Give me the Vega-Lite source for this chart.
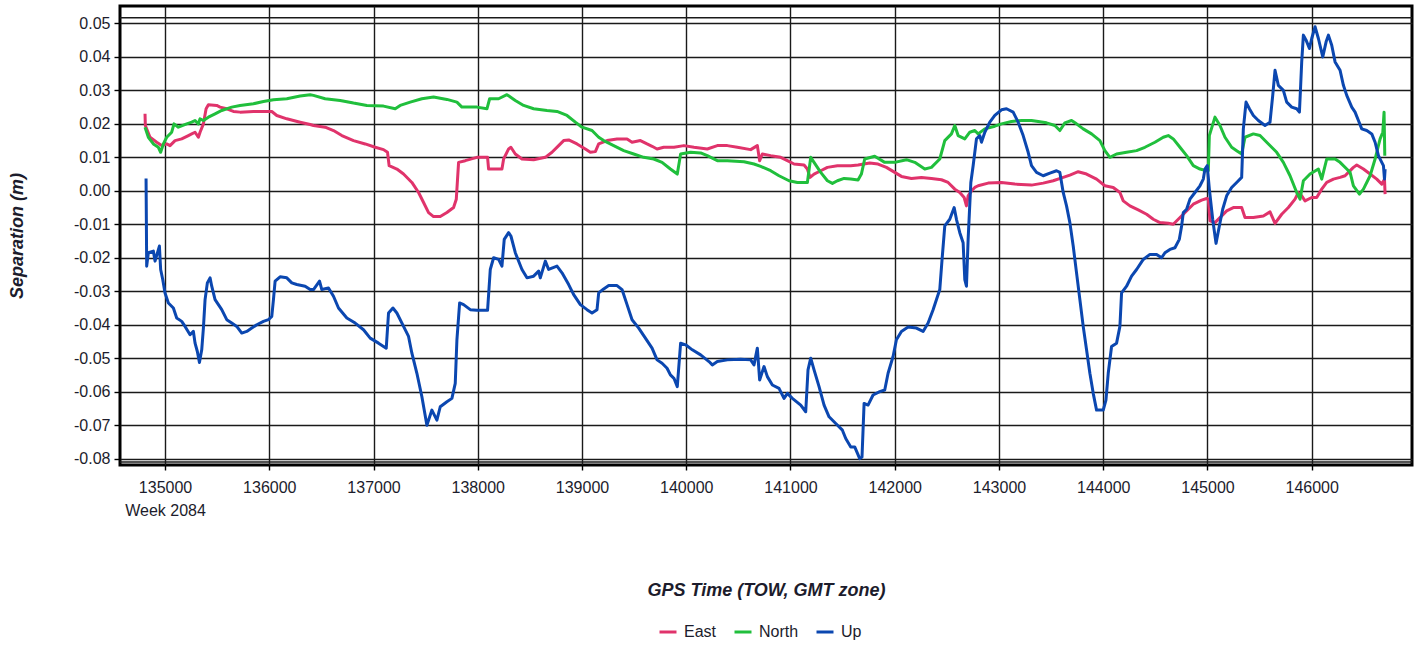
{
"$schema": "https://vega.github.io/schema/vega-lite/v6.json",
"width": 1292, "height": 459,
"autosize": {"type": "none"},
"padding": {"left": 120, "top": 6, "right": 11, "bottom": 181},
"background": "white",
"config": {
  "view": {"stroke": "#000000", "strokeWidth": 3},
  "font": "Liberation Sans",
  "axis": {"domain": false, "grid": true, "gridColor": "#1a1a1a", "gridWidth": 1.4, "gridOpacity": 1, "tickColor": "#000000", "tickWidth": 1.4, "labelFont": "Liberation Sans", "labelFontSize": 16, "labelColor": "#1c1c2c", "labelOverlap": false, "labelFlush": false, "titleFont": "Liberation Sans", "titleFontSize": 18, "titleFontWeight": "bold", "titleFontStyle": "italic", "titleColor": "#1c1c2c"},
  "legend": {"orient": "none", "legendX": 538, "legendY": 616, "direction": "horizontal", "gridAlign": "none", "symbolType": "stroke", "symbolSize": 289, "symbolStrokeWidth": 3, "labelFontSize": 16, "labelFont": "Liberation Sans", "labelColor": "#1c1c2c", "columnPadding": 11, "labelOffset": 6}
},
"datasets": {
  "frame": [{"v": 0.0517}, {"v": -0.081}],
  "series": [
{"t":134808,"s":"East","v":0.0230},{"t":134811,"s":"East","v":0.0195},{"t":134856,"s":"East","v":0.0160},{"t":134920,"s":"East","v":0.0145},{"t":134968,"s":"East","v":0.0135},{"t":135016,"s":"East","v":0.0140},{"t":135048,"s":"East","v":0.0135},{"t":135096,"s":"East","v":0.0150},{"t":135160,"s":"East","v":0.0155},{"t":135224,"s":"East","v":0.0165},{"t":135256,"s":"East","v":0.0170},{"t":135288,"s":"East","v":0.0175},{"t":135320,"s":"East","v":0.0160},{"t":135336,"s":"East","v":0.0175},{"t":135368,"s":"East","v":0.0200},{"t":135394,"s":"East","v":0.0245},{"t":135416,"s":"East","v":0.0257},{"t":135496,"s":"East","v":0.0255},{"t":135528,"s":"East","v":0.0250},{"t":135592,"s":"East","v":0.0245},{"t":135656,"s":"East","v":0.0237},{"t":135720,"s":"East","v":0.0235},{"t":135848,"s":"East","v":0.0237},{"t":136024,"s":"East","v":0.0237},{"t":136072,"s":"East","v":0.0225},{"t":136168,"s":"East","v":0.0215},{"t":136296,"s":"East","v":0.0205},{"t":136392,"s":"East","v":0.0198},{"t":136424,"s":"East","v":0.0195},{"t":136536,"s":"East","v":0.0190},{"t":136616,"s":"East","v":0.0180},{"t":136696,"s":"East","v":0.0165},{"t":136808,"s":"East","v":0.0150},{"t":136920,"s":"East","v":0.0140},{"t":137016,"s":"East","v":0.0130},{"t":137096,"s":"East","v":0.0123},{"t":137134,"s":"East","v":0.0115},{"t":137150,"s":"East","v":0.0075},{"t":137224,"s":"East","v":0.0065},{"t":137288,"s":"East","v":0.0050},{"t":137368,"s":"East","v":0.0025},{"t":137432,"s":"East","v":-0.0005},{"t":137480,"s":"East","v":-0.0035},{"t":137528,"s":"East","v":-0.0065},{"t":137576,"s":"East","v":-0.0077},{"t":137640,"s":"East","v":-0.0077},{"t":137704,"s":"East","v":-0.0065},{"t":137768,"s":"East","v":-0.0050},{"t":137794,"s":"East","v":-0.0025},{"t":137816,"s":"East","v":0.0085},{"t":137880,"s":"East","v":0.0090},{"t":137992,"s":"East","v":0.0100},{"t":138094,"s":"East","v":0.0100},{"t":138104,"s":"East","v":0.0065},{"t":138232,"s":"East","v":0.0065},{"t":138248,"s":"East","v":0.0095},{"t":138296,"s":"East","v":0.0125},{"t":138318,"s":"East","v":0.0130},{"t":138360,"s":"East","v":0.0110},{"t":138424,"s":"East","v":0.0095},{"t":138536,"s":"East","v":0.0093},{"t":138648,"s":"East","v":0.0100},{"t":138712,"s":"East","v":0.0115},{"t":138776,"s":"East","v":0.0135},{"t":138824,"s":"East","v":0.0150},{"t":138872,"s":"East","v":0.0152},{"t":138952,"s":"East","v":0.0140},{"t":139032,"s":"East","v":0.0125},{"t":139080,"s":"East","v":0.0115},{"t":139128,"s":"East","v":0.0117},{"t":139160,"s":"East","v":0.0140},{"t":139240,"s":"East","v":0.0150},{"t":139336,"s":"East","v":0.0155},{"t":139432,"s":"East","v":0.0155},{"t":139480,"s":"East","v":0.0145},{"t":139560,"s":"East","v":0.0150},{"t":139624,"s":"East","v":0.0140},{"t":139672,"s":"East","v":0.0133},{"t":139720,"s":"East","v":0.0125},{"t":139784,"s":"East","v":0.0130},{"t":139848,"s":"East","v":0.0130},{"t":139882,"s":"East","v":0.0130},{"t":139978,"s":"East","v":0.0135},{"t":140074,"s":"East","v":0.0130},{"t":140202,"s":"East","v":0.0125},{"t":140298,"s":"East","v":0.0135},{"t":140394,"s":"East","v":0.0135},{"t":140490,"s":"East","v":0.0130},{"t":140618,"s":"East","v":0.0123},{"t":140682,"s":"East","v":0.0135},{"t":140704,"s":"East","v":0.0090},{"t":140730,"s":"East","v":0.0110},{"t":140810,"s":"East","v":0.0105},{"t":140906,"s":"East","v":0.0100},{"t":140970,"s":"East","v":0.0090},{"t":141034,"s":"East","v":0.0080},{"t":141130,"s":"East","v":0.0077},{"t":141162,"s":"East","v":0.0065},{"t":141188,"s":"East","v":0.0040},{"t":141226,"s":"East","v":0.0050},{"t":141290,"s":"East","v":0.0060},{"t":141354,"s":"East","v":0.0070},{"t":141450,"s":"East","v":0.0075},{"t":141578,"s":"East","v":0.0075},{"t":141648,"s":"East","v":0.0077},{"t":141760,"s":"East","v":0.0083},{"t":141840,"s":"East","v":0.0080},{"t":141920,"s":"East","v":0.0070},{"t":142000,"s":"East","v":0.0055},{"t":142064,"s":"East","v":0.0043},{"t":142160,"s":"East","v":0.0037},{"t":142256,"s":"East","v":0.0040},{"t":142352,"s":"East","v":0.0037},{"t":142448,"s":"East","v":0.0033},{"t":142512,"s":"East","v":0.0025},{"t":142576,"s":"East","v":0.0005},{"t":142624,"s":"East","v":-0.0005},{"t":142666,"s":"East","v":-0.0020},{"t":142688,"s":"East","v":-0.0045},{"t":142704,"s":"East","v":-0.0015},{"t":142736,"s":"East","v":0.0000},{"t":142768,"s":"East","v":0.0010},{"t":142800,"s":"East","v":0.0015},{"t":142896,"s":"East","v":0.0023},{"t":143024,"s":"East","v":0.0025},{"t":143152,"s":"East","v":0.0020},{"t":143312,"s":"East","v":0.0017},{"t":143424,"s":"East","v":0.0023},{"t":143520,"s":"East","v":0.0030},{"t":143616,"s":"East","v":0.0040},{"t":143680,"s":"East","v":0.0047},{"t":143760,"s":"East","v":0.0057},{"t":143840,"s":"East","v":0.0050},{"t":143936,"s":"East","v":0.0035},{"t":144016,"s":"East","v":0.0015},{"t":144096,"s":"East","v":0.0010},{"t":144160,"s":"East","v":-0.0005},{"t":144192,"s":"East","v":-0.0030},{"t":144256,"s":"East","v":-0.0045},{"t":144336,"s":"East","v":-0.0057},{"t":144416,"s":"East","v":-0.0070},{"t":144480,"s":"East","v":-0.0085},{"t":144544,"s":"East","v":-0.0095},{"t":144624,"s":"East","v":-0.0097},{"t":144672,"s":"East","v":-0.0100},{"t":144720,"s":"East","v":-0.0085},{"t":144768,"s":"East","v":-0.0070},{"t":144816,"s":"East","v":-0.0055},{"t":144864,"s":"East","v":-0.0040},{"t":144944,"s":"East","v":-0.0028},{"t":144992,"s":"East","v":-0.0023},{"t":145008,"s":"East","v":-0.0025},{"t":145024,"s":"East","v":-0.0090},{"t":145072,"s":"East","v":-0.0095},{"t":145120,"s":"East","v":-0.0080},{"t":145184,"s":"East","v":-0.0060},{"t":145248,"s":"East","v":-0.0050},{"t":145328,"s":"East","v":-0.0050},{"t":145360,"s":"East","v":-0.0080},{"t":145440,"s":"East","v":-0.0080},{"t":145536,"s":"East","v":-0.0075},{"t":145600,"s":"East","v":-0.0063},{"t":145648,"s":"East","v":-0.0097},{"t":145712,"s":"East","v":-0.0070},{"t":145776,"s":"East","v":-0.0050},{"t":145840,"s":"East","v":-0.0025},{"t":145872,"s":"East","v":-0.0005},{"t":145904,"s":"East","v":-0.0015},{"t":145936,"s":"East","v":-0.0030},{"t":146000,"s":"East","v":-0.0020},{"t":146048,"s":"East","v":-0.0020},{"t":146096,"s":"East","v":0.0005},{"t":146144,"s":"East","v":0.0025},{"t":146208,"s":"East","v":0.0035},{"t":146272,"s":"East","v":0.0040},{"t":146320,"s":"East","v":0.0045},{"t":146352,"s":"East","v":0.0055},{"t":146400,"s":"East","v":0.0070},{"t":146432,"s":"East","v":0.0077},{"t":146496,"s":"East","v":0.0065},{"t":146560,"s":"East","v":0.0050},{"t":146624,"s":"East","v":0.0035},{"t":146672,"s":"East","v":0.0020},{"t":146698,"s":"East","v":0.0035},{"t":146704,"s":"East","v":-0.0010},
{"t":134808,"s":"North","v":0.0190},{"t":134840,"s":"North","v":0.0160},{"t":134888,"s":"North","v":0.0140},{"t":134936,"s":"North","v":0.0130},{"t":134958,"s":"North","v":0.0115},{"t":134984,"s":"North","v":0.0140},{"t":135016,"s":"North","v":0.0160},{"t":135064,"s":"North","v":0.0175},{"t":135086,"s":"North","v":0.0200},{"t":135128,"s":"North","v":0.0190},{"t":135208,"s":"North","v":0.0200},{"t":135256,"s":"North","v":0.0205},{"t":135288,"s":"North","v":0.0210},{"t":135320,"s":"North","v":0.0200},{"t":135336,"s":"North","v":0.0215},{"t":135368,"s":"North","v":0.0210},{"t":135416,"s":"North","v":0.0220},{"t":135480,"s":"North","v":0.0230},{"t":135544,"s":"North","v":0.0240},{"t":135640,"s":"North","v":0.0250},{"t":135720,"s":"North","v":0.0255},{"t":135848,"s":"North","v":0.0260},{"t":135944,"s":"North","v":0.0267},{"t":136040,"s":"North","v":0.0272},{"t":136168,"s":"North","v":0.0275},{"t":136296,"s":"North","v":0.0283},{"t":136392,"s":"North","v":0.0287},{"t":136424,"s":"North","v":0.0285},{"t":136536,"s":"North","v":0.0275},{"t":136680,"s":"North","v":0.0270},{"t":136808,"s":"North","v":0.0262},{"t":136936,"s":"North","v":0.0255},{"t":137096,"s":"North","v":0.0253},{"t":137208,"s":"North","v":0.0245},{"t":137256,"s":"North","v":0.0255},{"t":137352,"s":"North","v":0.0265},{"t":137464,"s":"North","v":0.0275},{"t":137576,"s":"North","v":0.0280},{"t":137704,"s":"North","v":0.0273},{"t":137800,"s":"North","v":0.0265},{"t":137848,"s":"North","v":0.0250},{"t":137992,"s":"North","v":0.0250},{"t":138088,"s":"North","v":0.0245},{"t":138114,"s":"North","v":0.0275},{"t":138200,"s":"North","v":0.0275},{"t":138280,"s":"North","v":0.0287},{"t":138360,"s":"North","v":0.0270},{"t":138440,"s":"North","v":0.0255},{"t":138536,"s":"North","v":0.0245},{"t":138664,"s":"North","v":0.0240},{"t":138760,"s":"North","v":0.0237},{"t":138856,"s":"North","v":0.0225},{"t":138936,"s":"North","v":0.0205},{"t":139000,"s":"North","v":0.0190},{"t":139096,"s":"North","v":0.0180},{"t":139160,"s":"North","v":0.0160},{"t":139208,"s":"North","v":0.0150},{"t":139304,"s":"North","v":0.0135},{"t":139400,"s":"North","v":0.0120},{"t":139496,"s":"North","v":0.0110},{"t":139592,"s":"North","v":0.0100},{"t":139688,"s":"North","v":0.0095},{"t":139768,"s":"North","v":0.0085},{"t":139848,"s":"North","v":0.0065},{"t":139914,"s":"North","v":0.0050},{"t":139946,"s":"North","v":0.0110},{"t":140042,"s":"North","v":0.0115},{"t":140138,"s":"North","v":0.0113},{"t":140202,"s":"North","v":0.0105},{"t":140298,"s":"North","v":0.0090},{"t":140394,"s":"North","v":0.0090},{"t":140554,"s":"North","v":0.0087},{"t":140650,"s":"North","v":0.0080},{"t":140714,"s":"North","v":0.0073},{"t":140810,"s":"North","v":0.0060},{"t":140890,"s":"North","v":0.0045},{"t":140986,"s":"North","v":0.0030},{"t":141066,"s":"North","v":0.0025},{"t":141162,"s":"North","v":0.0025},{"t":141194,"s":"North","v":0.0100},{"t":141226,"s":"North","v":0.0085},{"t":141290,"s":"North","v":0.0055},{"t":141354,"s":"North","v":0.0030},{"t":141402,"s":"North","v":0.0022},{"t":141450,"s":"North","v":0.0030},{"t":141514,"s":"North","v":0.0037},{"t":141578,"s":"North","v":0.0035},{"t":141648,"s":"North","v":0.0032},{"t":141680,"s":"North","v":0.0050},{"t":141712,"s":"North","v":0.0095},{"t":141808,"s":"North","v":0.0103},{"t":141904,"s":"North","v":0.0085},{"t":142000,"s":"North","v":0.0085},{"t":142112,"s":"North","v":0.0093},{"t":142192,"s":"North","v":0.0085},{"t":142288,"s":"North","v":0.0065},{"t":142352,"s":"North","v":0.0070},{"t":142432,"s":"North","v":0.0095},{"t":142480,"s":"North","v":0.0150},{"t":142544,"s":"North","v":0.0170},{"t":142576,"s":"North","v":0.0195},{"t":142608,"s":"North","v":0.0165},{"t":142672,"s":"North","v":0.0155},{"t":142720,"s":"North","v":0.0175},{"t":142768,"s":"North","v":0.0180},{"t":142800,"s":"North","v":0.0170},{"t":142864,"s":"North","v":0.0185},{"t":142960,"s":"North","v":0.0193},{"t":143024,"s":"North","v":0.0200},{"t":143120,"s":"North","v":0.0207},{"t":143216,"s":"North","v":0.0210},{"t":143312,"s":"North","v":0.0210},{"t":143456,"s":"North","v":0.0203},{"t":143536,"s":"North","v":0.0195},{"t":143584,"s":"North","v":0.0180},{"t":143632,"s":"North","v":0.0203},{"t":143696,"s":"North","v":0.0210},{"t":143744,"s":"North","v":0.0200},{"t":143808,"s":"North","v":0.0185},{"t":143888,"s":"North","v":0.0170},{"t":143968,"s":"North","v":0.0150},{"t":144016,"s":"North","v":0.0120},{"t":144064,"s":"North","v":0.0100},{"t":144128,"s":"North","v":0.0110},{"t":144224,"s":"North","v":0.0115},{"t":144320,"s":"North","v":0.0120},{"t":144400,"s":"North","v":0.0130},{"t":144496,"s":"North","v":0.0145},{"t":144576,"s":"North","v":0.0160},{"t":144624,"s":"North","v":0.0165},{"t":144672,"s":"North","v":0.0155},{"t":144736,"s":"North","v":0.0130},{"t":144800,"s":"North","v":0.0105},{"t":144864,"s":"North","v":0.0075},{"t":144928,"s":"North","v":0.0065},{"t":144992,"s":"North","v":0.0060},{"t":145008,"s":"North","v":0.0060},{"t":145018,"s":"North","v":0.0165},{"t":145072,"s":"North","v":0.0220},{"t":145120,"s":"North","v":0.0195},{"t":145168,"s":"North","v":0.0160},{"t":145232,"s":"North","v":0.0130},{"t":145280,"s":"North","v":0.0120},{"t":145328,"s":"North","v":0.0110},{"t":145360,"s":"North","v":0.0160},{"t":145440,"s":"North","v":0.0170},{"t":145504,"s":"North","v":0.0165},{"t":145568,"s":"North","v":0.0145},{"t":145616,"s":"North","v":0.0130},{"t":145664,"s":"North","v":0.0115},{"t":145728,"s":"North","v":0.0085},{"t":145792,"s":"North","v":0.0045},{"t":145856,"s":"North","v":-0.0005},{"t":145888,"s":"North","v":-0.0025},{"t":145920,"s":"North","v":0.0030},{"t":145984,"s":"North","v":0.0050},{"t":146064,"s":"North","v":0.0065},{"t":146096,"s":"North","v":0.0035},{"t":146144,"s":"North","v":0.0095},{"t":146224,"s":"North","v":0.0095},{"t":146272,"s":"North","v":0.0085},{"t":146336,"s":"North","v":0.0065},{"t":146368,"s":"North","v":0.0055},{"t":146400,"s":"North","v":0.0015},{"t":146458,"s":"North","v":-0.0010},{"t":146496,"s":"North","v":0.0005},{"t":146560,"s":"North","v":0.0045},{"t":146608,"s":"North","v":0.0095},{"t":146656,"s":"North","v":0.0155},{"t":146682,"s":"North","v":0.0175},{"t":146694,"s":"North","v":0.0235},{"t":146701,"s":"North","v":0.0105},
{"t":134818,"s":"Up","v":0.0037},{"t":134821,"s":"Up","v":-0.0095},{"t":134824,"s":"Up","v":-0.0225},{"t":134840,"s":"Up","v":-0.0185},{"t":134888,"s":"Up","v":-0.0180},{"t":134904,"s":"Up","v":-0.0210},{"t":134946,"s":"Up","v":-0.0165},{"t":134958,"s":"Up","v":-0.0235},{"t":134978,"s":"Up","v":-0.0265},{"t":135000,"s":"Up","v":-0.0305},{"t":135032,"s":"Up","v":-0.0335},{"t":135080,"s":"Up","v":-0.0350},{"t":135112,"s":"Up","v":-0.0380},{"t":135160,"s":"Up","v":-0.0390},{"t":135192,"s":"Up","v":-0.0405},{"t":135240,"s":"Up","v":-0.0430},{"t":135272,"s":"Up","v":-0.0420},{"t":135288,"s":"Up","v":-0.0455},{"t":135310,"s":"Up","v":-0.0480},{"t":135330,"s":"Up","v":-0.0513},{"t":135352,"s":"Up","v":-0.0475},{"t":135368,"s":"Up","v":-0.0410},{"t":135384,"s":"Up","v":-0.0325},{"t":135406,"s":"Up","v":-0.0275},{"t":135432,"s":"Up","v":-0.0260},{"t":135448,"s":"Up","v":-0.0285},{"t":135480,"s":"Up","v":-0.0325},{"t":135544,"s":"Up","v":-0.0355},{"t":135592,"s":"Up","v":-0.0385},{"t":135640,"s":"Up","v":-0.0395},{"t":135688,"s":"Up","v":-0.0405},{"t":135736,"s":"Up","v":-0.0425},{"t":135784,"s":"Up","v":-0.0420},{"t":135832,"s":"Up","v":-0.0410},{"t":135880,"s":"Up","v":-0.0400},{"t":135944,"s":"Up","v":-0.0390},{"t":135992,"s":"Up","v":-0.0385},{"t":136024,"s":"Up","v":-0.0375},{"t":136040,"s":"Up","v":-0.0325},{"t":136056,"s":"Up","v":-0.0270},{"t":136104,"s":"Up","v":-0.0257},{"t":136168,"s":"Up","v":-0.0260},{"t":136216,"s":"Up","v":-0.0275},{"t":136264,"s":"Up","v":-0.0280},{"t":136344,"s":"Up","v":-0.0285},{"t":136392,"s":"Up","v":-0.0295},{"t":136424,"s":"Up","v":-0.0295},{"t":136482,"s":"Up","v":-0.0270},{"t":136504,"s":"Up","v":-0.0295},{"t":136568,"s":"Up","v":-0.0290},{"t":136616,"s":"Up","v":-0.0315},{"t":136664,"s":"Up","v":-0.0350},{"t":136744,"s":"Up","v":-0.0380},{"t":136824,"s":"Up","v":-0.0395},{"t":136904,"s":"Up","v":-0.0415},{"t":136968,"s":"Up","v":-0.0440},{"t":137048,"s":"Up","v":-0.0455},{"t":137122,"s":"Up","v":-0.0470},{"t":137144,"s":"Up","v":-0.0365},{"t":137186,"s":"Up","v":-0.0350},{"t":137224,"s":"Up","v":-0.0365},{"t":137288,"s":"Up","v":-0.0405},{"t":137336,"s":"Up","v":-0.0435},{"t":137368,"s":"Up","v":-0.0485},{"t":137416,"s":"Up","v":-0.0545},{"t":137464,"s":"Up","v":-0.0615},{"t":137512,"s":"Up","v":-0.0700},{"t":137560,"s":"Up","v":-0.0655},{"t":137608,"s":"Up","v":-0.0685},{"t":137640,"s":"Up","v":-0.0645},{"t":137704,"s":"Up","v":-0.0630},{"t":137752,"s":"Up","v":-0.0620},{"t":137784,"s":"Up","v":-0.0575},{"t":137800,"s":"Up","v":-0.0445},{"t":137826,"s":"Up","v":-0.0335},{"t":137864,"s":"Up","v":-0.0340},{"t":137928,"s":"Up","v":-0.0355},{"t":137992,"s":"Up","v":-0.0357},{"t":138094,"s":"Up","v":-0.0357},{"t":138120,"s":"Up","v":-0.0235},{"t":138152,"s":"Up","v":-0.0200},{"t":138200,"s":"Up","v":-0.0205},{"t":138232,"s":"Up","v":-0.0225},{"t":138254,"s":"Up","v":-0.0145},{"t":138296,"s":"Up","v":-0.0125},{"t":138318,"s":"Up","v":-0.0135},{"t":138360,"s":"Up","v":-0.0185},{"t":138424,"s":"Up","v":-0.0235},{"t":138472,"s":"Up","v":-0.0260},{"t":138536,"s":"Up","v":-0.0255},{"t":138584,"s":"Up","v":-0.0240},{"t":138600,"s":"Up","v":-0.0260},{"t":138648,"s":"Up","v":-0.0210},{"t":138680,"s":"Up","v":-0.0235},{"t":138760,"s":"Up","v":-0.0225},{"t":138808,"s":"Up","v":-0.0245},{"t":138872,"s":"Up","v":-0.0280},{"t":138920,"s":"Up","v":-0.0310},{"t":138984,"s":"Up","v":-0.0340},{"t":139048,"s":"Up","v":-0.0355},{"t":139096,"s":"Up","v":-0.0365},{"t":139144,"s":"Up","v":-0.0355},{"t":139160,"s":"Up","v":-0.0305},{"t":139208,"s":"Up","v":-0.0293},{"t":139256,"s":"Up","v":-0.0283},{"t":139336,"s":"Up","v":-0.0283},{"t":139384,"s":"Up","v":-0.0295},{"t":139432,"s":"Up","v":-0.0340},{"t":139480,"s":"Up","v":-0.0385},{"t":139544,"s":"Up","v":-0.0410},{"t":139608,"s":"Up","v":-0.0440},{"t":139672,"s":"Up","v":-0.0470},{"t":139720,"s":"Up","v":-0.0505},{"t":139768,"s":"Up","v":-0.0515},{"t":139816,"s":"Up","v":-0.0530},{"t":139848,"s":"Up","v":-0.0550},{"t":139882,"s":"Up","v":-0.0560},{"t":139914,"s":"Up","v":-0.0585},{"t":139946,"s":"Up","v":-0.0455},{"t":139994,"s":"Up","v":-0.0460},{"t":140058,"s":"Up","v":-0.0475},{"t":140138,"s":"Up","v":-0.0490},{"t":140218,"s":"Up","v":-0.0510},{"t":140250,"s":"Up","v":-0.0520},{"t":140298,"s":"Up","v":-0.0510},{"t":140394,"s":"Up","v":-0.0505},{"t":140522,"s":"Up","v":-0.0503},{"t":140618,"s":"Up","v":-0.0505},{"t":140650,"s":"Up","v":-0.0520},{"t":140682,"s":"Up","v":-0.0470},{"t":140704,"s":"Up","v":-0.0565},{"t":140746,"s":"Up","v":-0.0525},{"t":140778,"s":"Up","v":-0.0555},{"t":140826,"s":"Up","v":-0.0580},{"t":140890,"s":"Up","v":-0.0590},{"t":140938,"s":"Up","v":-0.0620},{"t":140970,"s":"Up","v":-0.0605},{"t":141018,"s":"Up","v":-0.0620},{"t":141098,"s":"Up","v":-0.0640},{"t":141146,"s":"Up","v":-0.0660},{"t":141168,"s":"Up","v":-0.0535},{"t":141194,"s":"Up","v":-0.0500},{"t":141226,"s":"Up","v":-0.0535},{"t":141274,"s":"Up","v":-0.0585},{"t":141322,"s":"Up","v":-0.0640},{"t":141370,"s":"Up","v":-0.0675},{"t":141434,"s":"Up","v":-0.0695},{"t":141498,"s":"Up","v":-0.0715},{"t":141530,"s":"Up","v":-0.0740},{"t":141578,"s":"Up","v":-0.0765},{"t":141616,"s":"Up","v":-0.0765},{"t":141664,"s":"Up","v":-0.0800},{"t":141686,"s":"Up","v":-0.0795},{"t":141706,"s":"Up","v":-0.0635},{"t":141744,"s":"Up","v":-0.0640},{"t":141792,"s":"Up","v":-0.0610},{"t":141856,"s":"Up","v":-0.0600},{"t":141904,"s":"Up","v":-0.0595},{"t":141936,"s":"Up","v":-0.0545},{"t":141984,"s":"Up","v":-0.0495},{"t":142016,"s":"Up","v":-0.0445},{"t":142064,"s":"Up","v":-0.0420},{"t":142128,"s":"Up","v":-0.0407},{"t":142208,"s":"Up","v":-0.0410},{"t":142272,"s":"Up","v":-0.0420},{"t":142320,"s":"Up","v":-0.0395},{"t":142368,"s":"Up","v":-0.0355},{"t":142432,"s":"Up","v":-0.0295},{"t":142454,"s":"Up","v":-0.0205},{"t":142480,"s":"Up","v":-0.0105},{"t":142528,"s":"Up","v":-0.0085},{"t":142570,"s":"Up","v":-0.0050},{"t":142592,"s":"Up","v":-0.0085},{"t":142624,"s":"Up","v":-0.0125},{"t":142656,"s":"Up","v":-0.0155},{"t":142672,"s":"Up","v":-0.0265},{"t":142688,"s":"Up","v":-0.0285},{"t":142704,"s":"Up","v":-0.0145},{"t":142730,"s":"Up","v":0.0025},{"t":142752,"s":"Up","v":0.0075},{"t":142784,"s":"Up","v":0.0155},{"t":142816,"s":"Up","v":0.0165},{"t":142832,"s":"Up","v":0.0145},{"t":142864,"s":"Up","v":0.0175},{"t":142912,"s":"Up","v":0.0205},{"t":142960,"s":"Up","v":0.0225},{"t":143024,"s":"Up","v":0.0242},{"t":143072,"s":"Up","v":0.0245},{"t":143136,"s":"Up","v":0.0235},{"t":143184,"s":"Up","v":0.0205},{"t":143232,"s":"Up","v":0.0165},{"t":143280,"s":"Up","v":0.0115},{"t":143312,"s":"Up","v":0.0075},{"t":143360,"s":"Up","v":0.0055},{"t":143424,"s":"Up","v":0.0045},{"t":143488,"s":"Up","v":0.0053},{"t":143552,"s":"Up","v":0.0060},{"t":143584,"s":"Up","v":0.0055},{"t":143616,"s":"Up","v":-0.0005},{"t":143648,"s":"Up","v":-0.0045},{"t":143680,"s":"Up","v":-0.0095},{"t":143712,"s":"Up","v":-0.0165},{"t":143744,"s":"Up","v":-0.0245},{"t":143776,"s":"Up","v":-0.0325},{"t":143808,"s":"Up","v":-0.0405},{"t":143840,"s":"Up","v":-0.0475},{"t":143872,"s":"Up","v":-0.0545},{"t":143904,"s":"Up","v":-0.0605},{"t":143936,"s":"Up","v":-0.0655},{"t":144000,"s":"Up","v":-0.0655},{"t":144026,"s":"Up","v":-0.0625},{"t":144048,"s":"Up","v":-0.0545},{"t":144080,"s":"Up","v":-0.0465},{"t":144128,"s":"Up","v":-0.0455},{"t":144160,"s":"Up","v":-0.0405},{"t":144176,"s":"Up","v":-0.0305},{"t":144224,"s":"Up","v":-0.0285},{"t":144272,"s":"Up","v":-0.0255},{"t":144320,"s":"Up","v":-0.0235},{"t":144384,"s":"Up","v":-0.0205},{"t":144448,"s":"Up","v":-0.0190},{"t":144512,"s":"Up","v":-0.0190},{"t":144560,"s":"Up","v":-0.0200},{"t":144592,"s":"Up","v":-0.0185},{"t":144640,"s":"Up","v":-0.0175},{"t":144688,"s":"Up","v":-0.0170},{"t":144730,"s":"Up","v":-0.0145},{"t":144752,"s":"Up","v":-0.0105},{"t":144768,"s":"Up","v":-0.0065},{"t":144800,"s":"Up","v":-0.0055},{"t":144832,"s":"Up","v":-0.0025},{"t":144880,"s":"Up","v":-0.0005},{"t":144928,"s":"Up","v":0.0015},{"t":144960,"s":"Up","v":0.0035},{"t":144976,"s":"Up","v":0.0065},{"t":144998,"s":"Up","v":0.0075},{"t":145018,"s":"Up","v":0.0005},{"t":145050,"s":"Up","v":-0.0085},{"t":145082,"s":"Up","v":-0.0157},{"t":145114,"s":"Up","v":-0.0105},{"t":145146,"s":"Up","v":-0.0055},{"t":145184,"s":"Up","v":-0.0015},{"t":145232,"s":"Up","v":0.0010},{"t":145280,"s":"Up","v":0.0025},{"t":145328,"s":"Up","v":0.0040},{"t":145344,"s":"Up","v":0.0185},{"t":145370,"s":"Up","v":0.0265},{"t":145402,"s":"Up","v":0.0245},{"t":145440,"s":"Up","v":0.0225},{"t":145488,"s":"Up","v":0.0210},{"t":145552,"s":"Up","v":0.0195},{"t":145600,"s":"Up","v":0.0205},{"t":145626,"s":"Up","v":0.0285},{"t":145648,"s":"Up","v":0.0360},{"t":145680,"s":"Up","v":0.0315},{"t":145728,"s":"Up","v":0.0300},{"t":145760,"s":"Up","v":0.0265},{"t":145808,"s":"Up","v":0.0250},{"t":145856,"s":"Up","v":0.0245},{"t":145882,"s":"Up","v":0.0235},{"t":145894,"s":"Up","v":0.0315},{"t":145904,"s":"Up","v":0.0385},{"t":145920,"s":"Up","v":0.0465},{"t":145946,"s":"Up","v":0.0450},{"t":145978,"s":"Up","v":0.0425},{"t":146000,"s":"Up","v":0.0455},{"t":146032,"s":"Up","v":0.0490},{"t":146064,"s":"Up","v":0.0455},{"t":146106,"s":"Up","v":0.0400},{"t":146138,"s":"Up","v":0.0445},{"t":146160,"s":"Up","v":0.0465},{"t":146192,"s":"Up","v":0.0435},{"t":146224,"s":"Up","v":0.0385},{"t":146272,"s":"Up","v":0.0360},{"t":146304,"s":"Up","v":0.0315},{"t":146336,"s":"Up","v":0.0285},{"t":146384,"s":"Up","v":0.0250},{"t":146416,"s":"Up","v":0.0235},{"t":146448,"s":"Up","v":0.0210},{"t":146480,"s":"Up","v":0.0185},{"t":146528,"s":"Up","v":0.0180},{"t":146576,"s":"Up","v":0.0170},{"t":146608,"s":"Up","v":0.0145},{"t":146640,"s":"Up","v":0.0105},{"t":146672,"s":"Up","v":0.0085},{"t":146688,"s":"Up","v":0.0075},{"t":146698,"s":"Up","v":0.0035},{"t":146704,"s":"Up","v":0.0065}
  ]
},
"layer": [
  {
    "data": {"name": "frame"},
    "mark": {"type": "rule", "color": "#1a1a1a", "strokeWidth": 1.4},
    "encoding": {
      "y": {"field": "v", "type": "quantitative", "scale": {"domain": [-0.0819, 0.0552], "nice": false, "zero": false},
            "axis": {"values": [-0.08,-0.07,-0.06,-0.05,-0.04,-0.03,-0.02,-0.01,0,0.01,0.02,0.03,0.04,0.05], "labelExpr": "replace(format(datum.value, '.2f'), '\u2212', '-')", "tickSize": 6, "labelPadding": 4, "title": "Separation (m)", "titleBaseline": "middle", "titleX": -103}}
    }
  },
  {
    "data": {"name": "series"},
    "mark": {"type": "line", "strokeWidth": 3, "strokeJoin": "round"},
    "encoding": {
      "x": {"field": "t", "type": "quantitative", "scale": {"domain": [134568, 146962], "nice": false, "zero": false},
            "axis": {"values": [135000,136000,137000,138000,139000,140000,141000,142000,143000,144000,145000,146000], "format": "d", "labelExpr": "datum.value == 135000 ? ['135000', 'Week 2084'] : format(datum.value, 'd')", "labelLineHeight": 23, "tickSize": 5, "labelPadding": 9, "title": "GPS Time (TOW, GMT zone)", "titleBaseline": "middle", "titleY": 125}},
      "y": {"field": "v", "type": "quantitative", "scale": {"domain": [-0.0819, 0.0552], "nice": false, "zero": false},
            "axis": {"values": [-0.08,-0.07,-0.06,-0.05,-0.04,-0.03,-0.02,-0.01,0,0.01,0.02,0.03,0.04,0.05], "labelExpr": "replace(format(datum.value, '.2f'), '\u2212', '-')", "tickSize": 6, "labelPadding": 4, "title": "Separation (m)", "titleBaseline": "middle", "titleX": -103}},
      "color": {"field": "s", "type": "nominal", "scale": {"domain": ["East", "North", "Up"], "range": ["#e0336b", "#20bf3c", "#0b47b0"]}, "legend": {"title": null}}
    }
  }
]
}
